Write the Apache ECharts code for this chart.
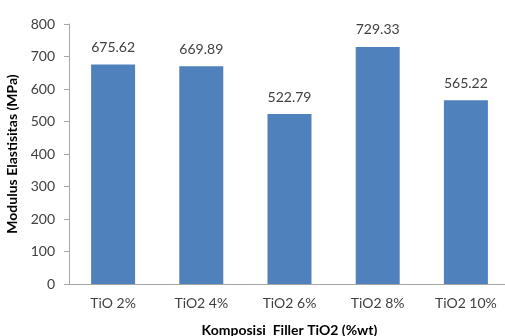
<!DOCTYPE html>
<html><head><meta charset="utf-8">
<script src="https://cdn.jsdelivr.net/npm/echarts@6/dist/echarts.min.js"></script>
<style>html,body{margin:0;padding:0;background:#fff}#c{width:505px;height:336px}</style>
</head><body><div id="c"></div>
<script>
const categories = ['TiO 2%', 'TiO2 4%', 'TiO2 6%', 'TiO2 8%', 'TiO2 10%'];
const values = [675.62, 669.89, 522.79, 729.33, 565.22];
const yTicks = [0, 100, 200, 300, 400, 500, 600, 700, 800];
const F = 'Lato, "Liberation Sans", sans-serif';
const chart = echarts.init(document.getElementById('c'), null, {renderer: 'canvas'});
chart.setOption({
  animation: false,
  grid: {left: 69, top: 24, width: 441, height: 260, containLabel: false, outerBoundsMode: 'none'},
  xAxis: {
    type: 'category', data: categories,
    axisLine: {lineStyle: {color: '#a6a6a6', width: 1}},
    axisTick: {show: false},
    axisLabel: {color: '#404040', fontFamily: F, fontSize: 14, margin: 12},
    name: 'Komposisi  Filler TiO2 (%wt)', nameLocation: 'middle', nameGap: 39,
    nameTextStyle: {color: '#000', fontFamily: F, fontSize: 14, fontWeight: 'bold'}
  },
  yAxis: {
    type: 'value', min: yTicks[0], max: yTicks[yTicks.length - 1], interval: 100,
    axisLine: {show: true, lineStyle: {color: '#a6a6a6', width: 1}},
    axisTick: {show: true, inside: false, length: 5, lineStyle: {color: '#a6a6a6'}},
    splitLine: {show: false},
    axisLabel: {color: '#404040', fontFamily: F, fontSize: 14, margin: 14},
    name: 'Modulus Elastisitas (MPa)', nameLocation: 'middle', nameGap: 44, nameRotate: 90,
    nameTextStyle: {color: '#000', fontFamily: F, fontSize: 14, fontWeight: 'bold'}
  },
  series: [{
    type: 'bar', data: values, barWidth: 44,
    itemStyle: {color: '#4f81bd'},
    label: {show: true, position: 'top', distance: 10, color: '#404040', fontFamily: F, fontSize: 14,
      formatter: p => p.value.toFixed(2)}
  }]
});
</script></body></html>
